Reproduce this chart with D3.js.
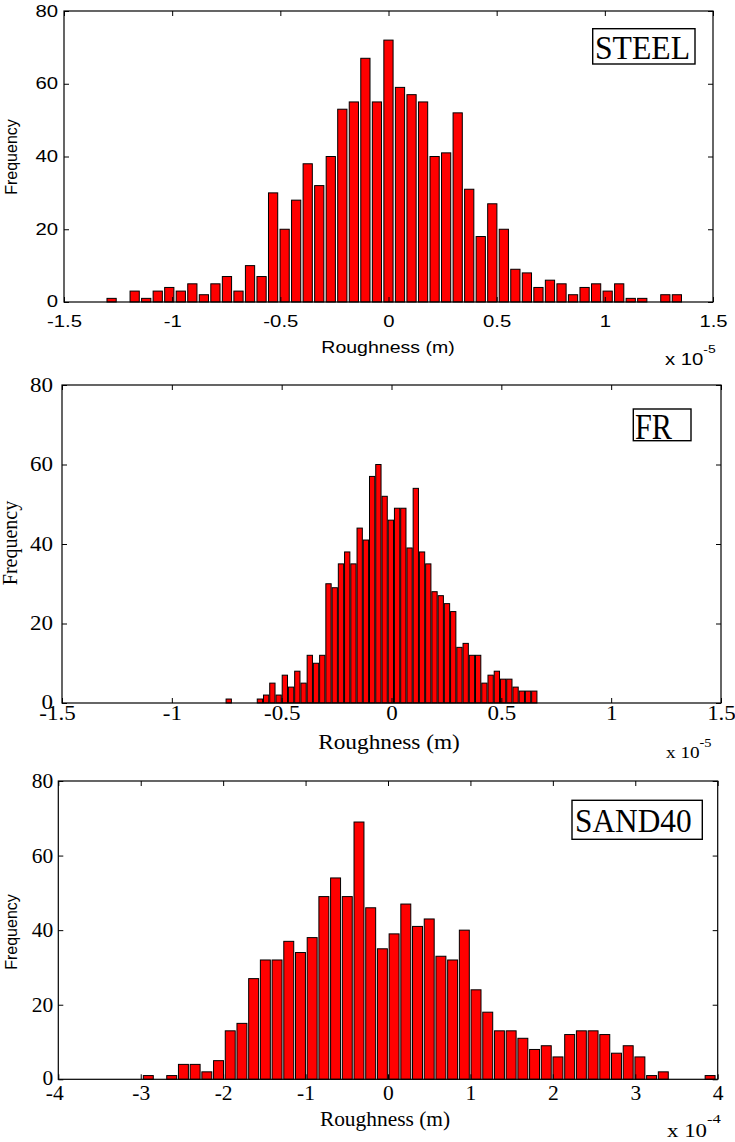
<!DOCTYPE html>
<html>
<head>
<meta charset="utf-8">
<script src="https://cdn.jsdelivr.net/npm/d3@7"></script>
<style>
  body { margin: 0; background: #fff; }
</style>
</head>
<body>
<div id="chart"></div>
<script>
// histogram counts (one entry per bin)
const steelCounts = [1,0,3,1,3,4,3,5,2,5, 7,3,10,7,30,20,28,38,32,40,
  53,55,67,55,72,59,57,55,40,41, 52,31,18,27,20,9,8,4,6,5, 2,4,5,3,5,1,1,0,2,2];
const frCounts = [1,0,0,0,0,1,2,5,2,7, 4,8,5,12,10,12,30,29,35,38,
  35,44,41,57,60,52,46,49,49,39, 54,38,35,28,27,25,23,14,15,12, 12,5,7,8,6,6,4,3,3,3];
const sandCounts = [1,0,1,4,4,2,5,13,15,27, 32,32,37,34,38,49,54,49,69,46,
  35,39,47,41,43,33,32,40,24,18, 13,13,11,8,9,6,12,13,13,12, 7,9,6,1,2,0,0,0,1];

// first and last bin centre (in units of the axis multiplier)
const steelBins = [-1.28, 1.333];
const frBins = [-0.741, 0.650];
const sandBins = [-2.908, 3.908];

const xTicksSmall = [-1.5, -1, -0.5, 0, 0.5, 1, 1.5];
const xTicksSand = [-4, -3, -2, -1, 0, 1, 2, 3, 4];
const yTicks = [0, 20, 40, 60, 80];

const SANS = "'Liberation Sans', Arial, sans-serif";
const SERIF = "'Liberation Serif', 'Times New Roman', serif";

const panels = [
  { label: 'STEEL', counts: steelCounts, bins: steelBins, xDomain: [-1.5, 1.5], xTicks: xTicksSmall,
    left: 64, right: 713, top: 11, bottom: 302, barFrac: 0.8, exp: '-5', firstShift: 0,
    tickFont: SANS, tickSize: 16, tickSx: 1.27, xPad: 13.5, yPad: 6,
    xlab: { font: SANS, size: 16, sx: 1.22, x: 388, y: 353 },
    ylab: { font: SANS, size: 16, x: 17, y: 157 },
    mult: { font: SANS, size: 16, sx: 1.27, x: 665, y: 365, esize: 11, edy: -12 },
    box: { x: 592.7, y: 28.7, w: 102.3, h: 35.3, tx: 595, ty: 59.3, size: 33, len: 95 } },
  { label: 'FR', counts: frCounts, bins: frBins, xDomain: [-1.5, 1.5], xTicks: xTicksSmall,
    left: 62, right: 721, top: 385, bottom: 703, barFrac: 0.85, exp: '-5', firstShift: -5,
    tickFont: SERIF, tickSize: 20, tickSx: 1.15, xPad: 3, yPad: 9,
    xlab: { font: SERIF, size: 21, sx: 1.11, x: 389, y: 749 },
    ylab: { font: SERIF, size: 20, x: 17, y: 543 },
    mult: { font: SERIF, size: 16, sx: 1.2, x: 666, y: 758, esize: 12, edy: -11 },
    box: { x: 633.3, y: 409, w: 57.7, h: 31.7, tx: 635, ty: 439, size: 36, len: 37 } },
  { label: 'SAND40', counts: sandCounts, bins: sandBins, xDomain: [-4, 4], xTicks: xTicksSand,
    left: 58.3, right: 717.7, top: 781, bottom: 1079.3, barFrac: 0.85, exp: '-4', firstShift: -4,
    tickFont: SERIF, tickSize: 20.5, tickSx: 1.05, xPad: 6.5, yPad: 5,
    xlab: { font: SERIF, size: 21, sx: 1.02, x: 385, y: 1126 },
    ylab: { font: SANS, size: 16, x: 16.7, y: 932 },
    mult: { font: SERIF, size: 18, sx: 1.27, x: 667, y: 1137, esize: 13, edy: -14 },
    box: { x: 572, y: 800.3, w: 130.3, h: 39, tx: 575, ty: 832.3, size: 33, len: 116.7 } }
];

const svg = d3.select('#chart').append('svg')
  .attr('width', 735)
  .attr('height', 1142);

panels.forEach(p => {
  const x = d3.scaleLinear().domain(p.xDomain).range([p.left, p.right]);
  const y = d3.scaleLinear().domain([0, 80]).range([p.bottom, p.top]);
  const n = p.counts.length;
  const step = (p.bins[1] - p.bins[0]) / (n - 1);
  const bw = (x(step) - x(0)) * p.barFrac;

  const g = svg.append('g');

  g.selectAll('rect.bar')
    .data(p.counts.map((c, i) => ({ c: c, mid: p.bins[0] + i * step })).filter(d => d.c > 0))
    .enter()
    .append('rect')
    .attr('class', 'bar')
    .attr('x', d => x(d.mid) - bw / 2)
    .attr('width', bw)
    .attr('y', d => y(d.c))
    .attr('height', d => y(0) - y(d.c))
    .attr('fill', '#ff0000')
    .attr('stroke', '#000')
    .attr('stroke-width', 1);

  // axes, ticks inside like matlab
  const bottom = g.append('g').attr('transform', `translate(0,${p.bottom})`)
    .call(d3.axisBottom(x).tickValues(p.xTicks).tickSize(-5).tickPadding(p.xPad).tickFormat(d => String(d)));
  g.append('g').attr('transform', `translate(0,${p.top})`)
    .call(d3.axisTop(x).tickValues(p.xTicks).tickSize(-5).tickFormat(''));
  const left = g.append('g').attr('transform', `translate(${p.left},0)`)
    .call(d3.axisLeft(y).tickValues(yTicks).tickSize(-5).tickPadding(p.yPad / p.tickSx).tickFormat(d => String(d)));
  g.append('g').attr('transform', `translate(${p.right},0)`)
    .call(d3.axisRight(y).tickValues(yTicks).tickSize(-5).tickFormat(''));

  g.selectAll('.domain').remove();
  g.selectAll('.tick line').attr('stroke', '#000');
  [bottom, left].forEach(a => a.selectAll('text')
    .attr('fill', '#000')
    .style('font-family', p.tickFont)
    .style('font-size', p.tickSize + 'px')
    .attr('transform', `scale(${p.tickSx},1)`));
  // matlab nudges the first x label a little left of its tick
  bottom.selectAll('text').filter((d, i) => i === 0).attr('x', p.firstShift / p.tickSx);
  left.selectAll('text').filter(d => d === 0).attr('dy', '0.25em');

  g.append('rect')
    .attr('x', p.left).attr('y', p.top)
    .attr('width', p.right - p.left).attr('height', p.bottom - p.top)
    .attr('fill', 'none').attr('stroke', '#000').attr('stroke-width', 1.2);

  // labels
  g.append('text')
    .attr('transform', `translate(${p.xlab.x},${p.xlab.y}) scale(${p.xlab.sx},1)`)
    .attr('text-anchor', 'middle')
    .style('font-family', p.xlab.font).style('font-size', p.xlab.size + 'px')
    .text('Roughness (m)');

  g.append('text')
    .attr('transform', `translate(${p.ylab.x},${p.ylab.y}) rotate(-90)`)
    .attr('text-anchor', 'middle')
    .style('font-family', p.ylab.font).style('font-size', p.ylab.size + 'px')
    .text('Frequency');

  const m = g.append('text')
    .attr('transform', `translate(${p.mult.x},${p.mult.y}) scale(${p.mult.sx},1)`)
    .style('font-family', p.mult.font).style('font-size', p.mult.size + 'px');
  m.append('tspan').text('x 10');
  m.append('tspan').attr('dy', p.mult.edy).style('font-size', p.mult.esize + 'px').text(p.exp);

  g.append('rect')
    .attr('x', p.box.x).attr('y', p.box.y).attr('width', p.box.w).attr('height', p.box.h)
    .attr('fill', '#fff').attr('stroke', '#000').attr('stroke-width', 1.4);
  g.append('text')
    .attr('x', p.box.tx).attr('y', p.box.ty)
    .attr('textLength', p.box.len).attr('lengthAdjust', 'spacingAndGlyphs')
    .style('font-family', SERIF).style('font-size', p.box.size + 'px')
    .text(p.label);
});
</script>
</body>
</html>
